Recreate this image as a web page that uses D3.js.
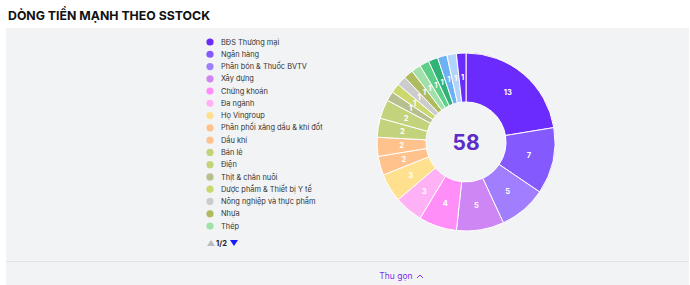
<!DOCTYPE html>
<html>
<head>
<meta charset="utf-8">
<script src="https://cdn.jsdelivr.net/npm/d3@7"></script>
<style>
	body { margin: 0; background: #fff; font-family: Inter, "Noto Sans", sans-serif; }
</style>
</head>
<body>
<svg id="chart" width="690" height="285"></svg>
<script>
// sectors, in the order the chart draws them (clockwise from 12 o'clock)
const categories = [
	'BĐS Thương mại', 'Ngân hàng', 'Phân bón & Thuốc BVTV', 'Xây dựng', 'Chứng khoán',
	'Đa ngành', 'Họ Vingroup', 'Phân phối xăng dầu & khí đốt', 'Dầu khí', 'Bán lẻ',
	'Điện', 'Thịt & chăn nuôi', 'Dược phẩm & Thiết bị Y tế', 'Nông nghiệp và thực phẩm', 'Nhựa',
	'Thép', 'Bảo hiểm', 'Thủy sản', 'Công nghệ', 'Vận tải', 'Khu công nghiệp'
];
const counts = [13, 7, 5, 5, 4, 3, 3, 2, 2, 2, 2, 1, 1, 1, 1, 1, 1, 1, 1, 1, 1];
const colors = [
	'#6b2bfd', '#8459fe', '#a07efd', '#cd86f3', '#ff8ef8',
	'#ffb1f5', '#ffe08f', '#ffc28c', '#ffc28c', '#c3d37c',
	'#c3d37c', '#b7bf8f', '#cad86f', '#cccccc', '#afbb5f',
	'#a2e0aa', '#5dcf89', '#2fb377', '#6db1f4', '#b1d4fa', '#6b2bfd'
];
const legendPage = 16; // items shown on page 1 of 2

const svg = d3.select('#chart');

// title
svg.append('text')
	.attr('x', 8).attr('y', 20)
	.attr('font-size', 12.3).attr('font-weight', 700)
	.attr('fill', '#111')
	.text('DÒNG TIỀN MẠNH THEO SSTOCK');

// card
svg.append('rect')
	.attr('x', 6).attr('y', 28)
	.attr('width', 683).attr('height', 257)
	.attr('fill', '#f2f3f5');
svg.append('line')
	.attr('x1', 6).attr('x2', 689)
	.attr('y1', 261.5).attr('y2', 261.5)
	.attr('stroke', '#e2e3e6');

// donut
const cx = 466, cy = 142;
const pie = d3.pie().sort(null).value(d => d);
const arc = d3.arc().innerRadius(40).outerRadius(89);
const arcs = pie(counts);

const g = svg.append('g').attr('transform', `translate(${cx},${cy})`);

g.selectAll('path')
	.data(arcs)
	.enter()
	.append('path')
	.attr('d', arc)
	.attr('fill', (d, i) => colors[i])
	.attr('stroke', '#fff')
	.attr('stroke-width', 1);

g.selectAll('text.lbl')
	.data(arcs)
	.enter()
	.append('text')
	.attr('class', 'lbl')
	.attr('transform', d => `translate(${arc.centroid(d)})`)
	.attr('text-anchor', 'middle')
	.attr('dy', '0.35em')
	.attr('font-size', 7.5).attr('font-weight', 700)
	.attr('fill', '#fff')
	.text(d => d.data);

g.append('text')
	.attr('text-anchor', 'middle')
	.attr('dy', '0.36em')
	.attr('font-size', 21).attr('font-weight', 700)
	.attr('fill', '#5b2cc9')
	.text(d3.sum(counts));

// legend, page 1
const ly = d3.scaleLinear().domain([0, legendPage - 1]).range([42, 226]);
const legend = svg.append('g');
const rows = legend.selectAll('g')
	.data(categories.slice(0, legendPage))
	.enter()
	.append('g')
	.attr('transform', (d, i) => `translate(210,${ly(i)})`);
rows.append('circle')
	.attr('r', 3.6)
	.attr('fill', (d, i) => colors[i]);
rows.append('text')
	.attr('x', 11).attr('dy', '0.35em')
	.attr('font-size', 7.4)
	.attr('fill', '#333')
	.text(d => d);

// pager
svg.append('path')
	.attr('d', 'M207,246 L211,240 L215,246 Z')
	.attr('fill', '#bbb');
svg.append('text')
	.attr('x', 216).attr('y', 246)
	.attr('font-size', 7.5).attr('font-weight', 700)
	.attr('fill', '#222')
	.text('1/2');
svg.append('path')
	.attr('d', 'M230,240 L238,240 L234,246 Z')
	.attr('fill', '#1a1aff');

// collapse link
svg.append('text')
	.attr('x', 396).attr('y', 279)
	.attr('text-anchor', 'middle')
	.attr('font-size', 8.5)
	.attr('fill', '#7b30f0')
	.text('Thu gọn');
svg.append('path')
	.attr('d', 'M417,278 L420,275 L423,278')
	.attr('fill', 'none')
	.attr('stroke', '#7b30f0')
	.attr('stroke-width', 1);
</script>
</body>
</html>
